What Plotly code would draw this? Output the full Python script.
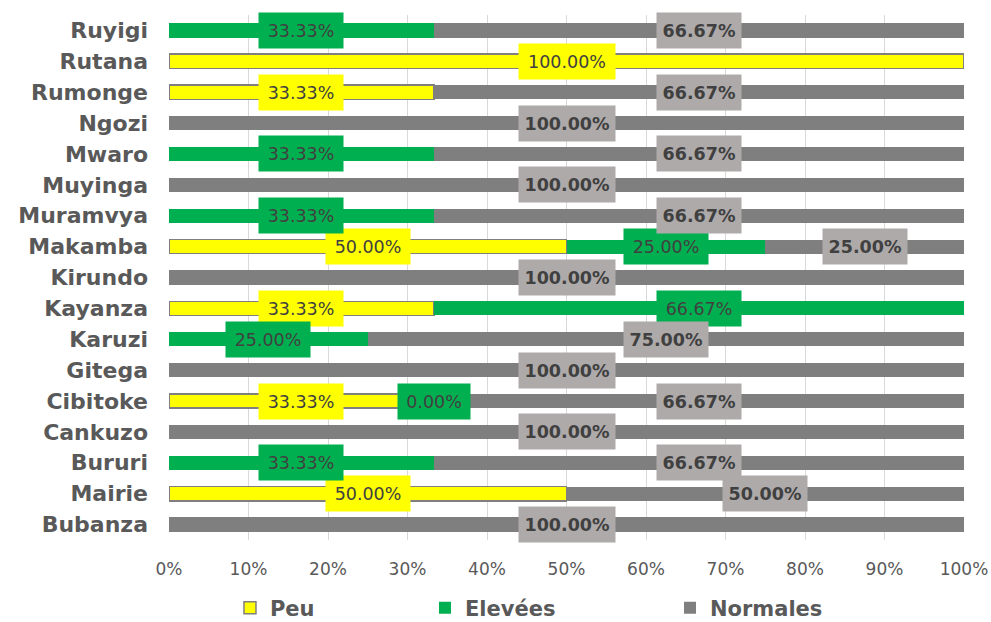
import plotly.graph_objects as go

categories = ["Bubanza", "Mairie", "Bururi", "Cankuzo", "Cibitoke", "Gitega", "Karuzi",
              "Kayanza", "Kirundo", "Makamba", "Muramvya", "Muyinga", "Mwaro", "Ngozi",
              "Rumonge", "Rutana", "Ruyigi"]
peu = [None, 50.00, None, None, 33.33, None, None, 33.33, None, 50.00, None, None, None, None, 33.33, 100.00, None]
elevees = [None, None, 33.33, None, 0.00, None, 25.00, 66.67, None, 25.00, 33.33, None, 33.33, None, None, None, 33.33]
normales = [100.00, 50.00, 66.67, 100.00, 66.67, 100.00, 75.00, None, 100.00, 25.00, 66.67, 100.00, 66.67, 100.00, 66.67, None, 66.67]
tick_vals = [0, 10, 20, 30, 40, 50, 60, 70, 80, 90, 100]
tick_text = ["0%", "10%", "20%", "30%", "40%", "50%", "60%", "70%", "80%", "90%", "100%"]

# name, values, bar colour, label box colour, bold label, legend id, legend x (paper)
series = [
    ("Peu", peu, "#FFFF00", "#FFFF00", False, "legend", 0.0767),
    ("Elevées", elevees, "#00B050", "#00B050", False, "legend2", 0.3220),
    ("Normales", normales, "#7F7F7F", "#AEAAAA", True, "legend3", 0.6302),
]

FONT = "Verdana, DejaVu Sans, sans-serif"
fig = go.Figure()
for name, vals, col, boxcol, bold, leg, lx in series:
    fig.add_trace(go.Bar(
        y=categories, x=[v if v is not None else 0 for v in vals], name=f"<b>{name}</b>",
        orientation="h", width=0.46, legend=leg,
        marker=dict(color=col,
                    line=dict(color="#7F7F7F", width=1.5 if name == "Peu" else 0)),
        hoverinfo="x+y",
    ))

annotations = []
cum = [0.0] * len(categories)
for name, vals, col, boxcol, bold, leg, lx in series:
    for i, v in enumerate(vals):
        if v is None:
            continue
        mid = cum[i] + v / 2
        cum[i] += v
        txt = f"{v:.2f}%"
        annotations.append(dict(
            x=mid, y=categories[i], xref="x", yref="y", showarrow=False,
            text=f"<b>{txt}</b>" if bold else txt,
            font=dict(family=FONT, size=17.5, color="#404040"),
            bgcolor=boxcol, width=12 * len(txt) + 10, height=33,
            borderpad=1, align="center", valign="middle",
        ))

legend_common = dict(orientation="h", y=-0.1295, yanchor="middle", xanchor="left",
                     font=dict(family=FONT, size=21, color="#595959"),
                     bgcolor="rgba(0,0,0,0)", borderwidth=0)
legends = {}
for name, vals, col, boxcol, bold, leg, lx in series:
    legends[leg] = dict(legend_common, x=lx)

fig.update_layout(
    barmode="stack",
    width=991, height=622,
    margin=dict(l=169, r=27, t=15, b=82, autoexpand=False),
    paper_bgcolor="white", plot_bgcolor="white",
    annotations=annotations,
    font=dict(family=FONT, color="#595959"),
    xaxis=dict(range=[0, 100], tickvals=tick_vals, ticktext=tick_text,
               showgrid=True, gridcolor="#D9D9D9", gridwidth=1.2,
               zeroline=False, showline=False, automargin=False,
               ticks="", ticklabelstandoff=17,
               tickfont=dict(family=FONT, size=17, color="#595959")),
    yaxis=dict(categoryorder="array", categoryarray=categories,
               range=[-0.5, 16.5], showgrid=False, zeroline=False, automargin=False,
               ticks="", ticklabelstandoff=20,
               tickfont=dict(family=FONT, size=22, color="#595959"),
               tickvals=categories,
               ticktext=[f"<b>{c}</b>" for c in categories]),
    showlegend=True,
    **legends,
)

fig.write_html("out.html")
